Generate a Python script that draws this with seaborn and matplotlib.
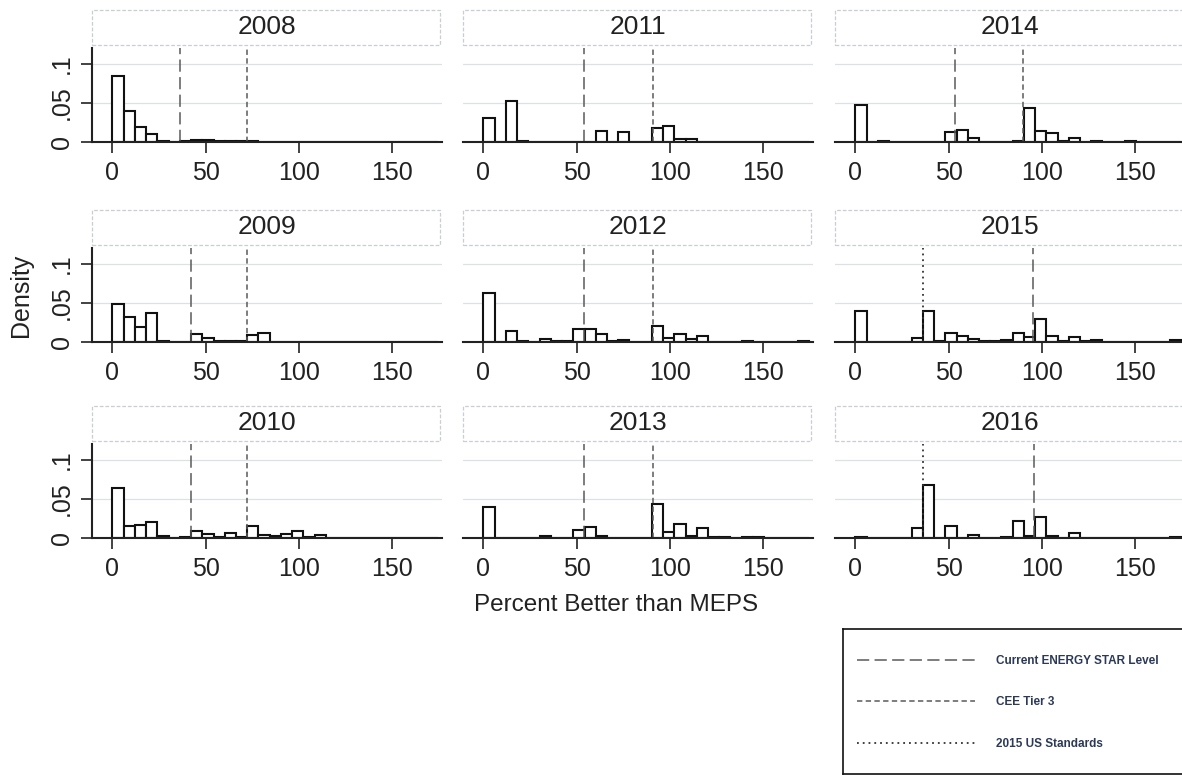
import numpy as np
import pandas as pd
import matplotlib
matplotlib.use('Agg')
import matplotlib.pyplot as plt
import matplotlib.patches as mpatches
from matplotlib.lines import Line2D
import seaborn as sns

# histogram bins (percent better than MEPS), width
BIN_W = 6.03
N_BINS = 29
centers = np.arange(N_BINS) * BIN_W + BIN_W / 2

years = [2008, 2009, 2010, 2011, 2012, 2013, 2014, 2015, 2016]

dens_2008 = [0.084, 0.0395, 0.0197, 0.0105, 0.0015, 0.0005, 0.001, 0.002, 0.003, 0.001, 0.001, 0.001, 0.001, 0.0005,
             0, 0, 0, 0, 0, 0, 0, 0, 0, 0, 0, 0, 0, 0, 0]
dens_2009 = [0.048, 0.032, 0.019, 0.037, 0.001, 0.0005, 0.0005, 0.0105, 0.005, 0.001, 0.001, 0.001, 0.009, 0.012,
             0.0005, 0.0005, 0.0005, 0, 0, 0, 0, 0, 0, 0, 0, 0, 0, 0, 0]
dens_2010 = [0.064, 0.0157, 0.017, 0.020, 0.002, 0.0005, 0.001, 0.0095, 0.005, 0.001, 0.007, 0.001, 0.0157, 0.004,
             0.002, 0.005, 0.0095, 0.001, 0.004, 0.0005, 0.0005, 0.0005, 0.0005, 0.0005, 0.0005, 0.0005, 0.0005,
             0.0005, 0.0005]
dens_2011 = [0.031, 0, 0.052, 0.001, 0.0005, 0.0005, 0.0005, 0.0005, 0.0005, 0.0005, 0.014, 0.0005, 0.0134, 0.0005,
             0.0005, 0.018, 0.020, 0.0043, 0.0043, 0.0005, 0.0005, 0.0005, 0.0005, 0, 0, 0, 0, 0, 0]
dens_2012 = [0.062, 0, 0.0146, 0.001, 0.0005, 0.004, 0.001, 0.001, 0.0167, 0.0167, 0.0104, 0.001, 0.002, 0.0005,
             0.0005, 0.021, 0.0054, 0.0104, 0.004, 0.0075, 0.0005, 0.0005, 0.0005, 0.001, 0.0005, 0.0005, 0.0005,
             0.0005, 0.001]
dens_2013 = [0.040, 0, 0.0005, 0.0005, 0.0005, 0.002, 0.0005, 0.0005, 0.0103, 0.0138, 0.002, 0.0005, 0.0005, 0.0005,
             0.0005, 0.044, 0.0082, 0.0177, 0.002, 0.0134, 0.001, 0.001, 0.0005, 0.001, 0.001, 0.0005, 0.0005,
             0.0005, 0.0005]
dens_2014 = [0.047, 0, 0.001, 0.0005, 0.0005, 0.0005, 0.0005, 0.0005, 0.0128, 0.0158, 0.005, 0.0005, 0.0005, 0.0005,
             0.001, 0.044, 0.014, 0.0115, 0.001, 0.0055, 0.0005, 0.001, 0.0005, 0.0005, 0.001, 0.0005, 0, 0, 0]
dens_2015 = [0.040, 0.0005, 0.0005, 0.0005, 0.0005, 0.0048, 0.039, 0.001, 0.0115, 0.008, 0.0042, 0.001, 0.001, 0.003,
             0.0115, 0.0058, 0.030, 0.008, 0.001, 0.0058, 0.001, 0.002, 0.0005, 0.0005, 0.0005, 0.0005, 0.0005,
             0.0005, 0.002]
dens_2016 = [0.001, 0, 0, 0, 0.0005, 0.013, 0.068, 0, 0.0155, 0.0005, 0.004, 0.0005, 0.0005, 0.001, 0.022, 0.002,
             0.027, 0.002, 0.0005, 0.006, 0, 0, 0, 0, 0, 0, 0, 0.0005, 0.001]

# reference levels per year (None = not drawn)
energy_star = [36, 42, 42, 54, 54, 54, 53.5, 95.5, 96]
cee_tier3 = [72, 72, 72, 91, 91, 91, 90, None, None]
us_std_2015 = [None, None, None, None, None, None, None, 36, 36]

dens = dict(zip(years, [dens_2008, dens_2009, dens_2010, dens_2011, dens_2012,
                        dens_2013, dens_2014, dens_2015, dens_2016]))

sns.set_theme(style='white')
plt.rcParams['font.family'] = ['Liberation Sans', 'DejaVu Sans']
plt.rcParams['text.color'] = '#222222'

W, H = 1182, 775
fig = plt.figure(figsize=(W / 100, H / 100), dpi=100)

col_left = [92, 463, 835]
row_bottom = [142, 342, 538]
ax_w, ax_h = 350, 94

ES_STYLE = dict(color='#5a5a5a', lw=1.1, dashes=(8, 3.5))
CEE_STYLE = dict(color='#5a5a5a', lw=1.1, dashes=(3.5, 2.2))
STD_STYLE = dict(color='#333333', lw=1.3, dashes=(1, 2.2))

for i, yr in enumerate(years):
    c, r = i // 3, i % 3
    ax = fig.add_axes([col_left[c] / W, 1 - row_bottom[r] / H, ax_w / W, ax_h / H])
    df = pd.DataFrame({'pct': centers, 'density': dens[yr]})
    sns.histplot(data=df, x='pct', weights='density', bins=N_BINS, binrange=(0, N_BINS * BIN_W),
                 stat='count', color='white', edgecolor='#111111', linewidth=1.5, alpha=1, ax=ax)
    ax.set_xlim(-11, 177)
    ax.set_ylim(0, 0.12)
    ax.set_xlabel('')
    ax.set_ylabel('')
    ax.yaxis.grid(True, color='#dde0e5', lw=0.9)
    ax.set_axisbelow(True)
    ax.set_yticks([0, 0.05, 0.1])
    for s in ['top', 'right']:
        ax.spines[s].set_visible(False)
    ax.spines['bottom'].set_color('#222222')
    ax.spines['bottom'].set_linewidth(1.5)
    ax.set_xticks([0, 50, 100, 150])
    ax.tick_params(axis='x', bottom=True, direction='out', length=8, width=1.2,
                   color='#222222', pad=6, labelsize=18, labelcolor='#222222')
    if c == 0:
        ax.spines['left'].set_color('#222222')
        ax.spines['left'].set_linewidth(1.5)
        ax.set_yticklabels(['0', '.05', '.1'], rotation=90, va='center')
        ax.tick_params(axis='y', left=True, direction='out', length=8, width=1.2,
                       color='#222222', pad=5, labelsize=18, labelcolor='#222222')
    else:
        ax.spines['left'].set_visible(False)
        ax.set_yticklabels([])
        ax.tick_params(axis='y', left=False)

    if energy_star[i] is not None:
        ax.axvline(energy_star[i], **ES_STYLE)
    if cee_tier3[i] is not None:
        ax.axvline(cee_tier3[i], **CEE_STYLE)
    if us_std_2015[i] is not None:
        ax.axvline(us_std_2015[i], **STD_STYLE)

    # strip title box
    strip = mpatches.Rectangle((0, 1.035), 0.995, 0.37, transform=ax.transAxes,
                               facecolor='white', edgecolor='#c9cdd6', lw=0.9,
                               linestyle=(0, (3, 1.5)), clip_on=False)
    ax.add_patch(strip)
    ax.text(0.5, 1.035 + 0.185, str(yr), transform=ax.transAxes, ha='center',
            va='center', fontsize=19, color='#222222')

fig.text(21 / W, 1 - 295 / H, 'Density', rotation=90, ha='center', va='center',
         fontsize=18, color='#222222')
fig.text(616 / W, 1 - 605 / H, 'Percent Better than MEPS', ha='center', va='center',
         fontsize=17.5, color='#222222')

# legend box
lax = fig.add_axes([843 / W, 1.5 / H, (1195 - 843) / W, 145 / H])
lax.set_xticks([])
lax.set_yticks([])
for s in lax.spines.values():
    s.set_color('#111111')
    s.set_linewidth(1.2)
handles = [Line2D([], [], **ES_STYLE), Line2D([], [], **CEE_STYLE), Line2D([], [], **STD_STYLE)]
labels = ['Current ENERGY STAR Level', 'CEE Tier 3', '2015 US Standards']
leg = lax.legend(handles, labels, loc='center left', bbox_to_anchor=(0.0, 0.49), frameon=False,
                 fontsize=8.5, handlelength=10, handletextpad=1.8, labelspacing=2.5,
                 borderpad=0, borderaxespad=1.2)
for t in leg.get_texts():
    t.set_color('#2c3a58')
    t.set_fontweight('bold')

fig.savefig('out.png', dpi=100)
